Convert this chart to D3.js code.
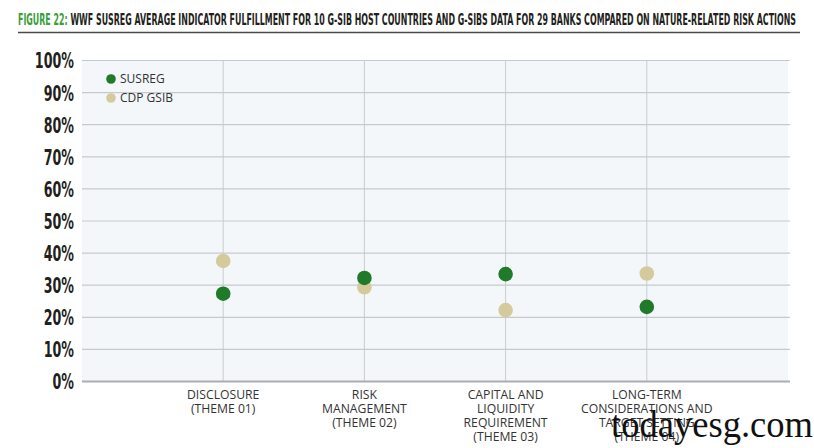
<!DOCTYPE html>
<html>
<head>
<meta charset="utf-8">
<script src="https://cdn.jsdelivr.net/npm/d3@7"></script>
<style>
  body { margin: 0; background: #fff; }
  svg { display: block; }
</style>
</head>
<body>
<svg id="chart" width="814" height="448"></svg>
<script>
// ---- data ----
const categories = [
  ["DISCLOSURE", "(THEME 01)"],
  ["RISK", "MANAGEMENT", "(THEME 02)"],
  ["CAPITAL AND", "LIQUIDITY", "REQUIREMENT", "(THEME 03)"],
  ["LONG-TERM", "CONSIDERATIONS AND", "TARGET SETTING", "(THEME 04)"]
];
const categoryKeys = ["Disclosure", "Risk Management", "Capital and Liquidity", "Long-term"];
const susregValues = [0.272, 0.321, 0.333, 0.231];
const cdpValues = [0.374, 0.292, 0.221, 0.335];
const yTicks = [0, 0.1, 0.2, 0.3, 0.4, 0.5, 0.6, 0.7, 0.8, 0.9, 1.0];
const seriesNames = ["SUSREG", "CDP GSIB"];
const seriesColors = ["#1f7a2a", "#d5ca9b"];

const svg = d3.select("#chart");
const plot = { left: 82, right: 788, top: 60, bottom: 381 };

const x = d3.scalePoint().domain(categoryKeys).range([plot.left, plot.right]).padding(1);
const y = d3.scaleLinear().domain([0, 1]).range([plot.bottom, plot.top]);

// title
const title = svg.append("text")
  .attr("x", 18).attr("y", 25)
  .attr("font-family", "'DejaVu Sans Condensed', 'Liberation Sans', sans-serif")
  .attr("font-weight", "bold")
  .attr("font-size", 16)
  .attr("textLength", 778)
  .attr("lengthAdjust", "spacingAndGlyphs");
title.append("tspan").attr("fill", "#3a9e3a").text("FIGURE 22: ");
title.append("tspan").attr("fill", "#231f20")
  .text("WWF SUSREG AVERAGE INDICATOR FULFILLMENT FOR 10 G-SIB HOST COUNTRIES AND G-SIBS DATA FOR 29 BANKS COMPARED ON NATURE-RELATED RISK ACTIONS");

svg.append("line")
  .attr("x1", 18).attr("x2", 800).attr("y1", 32.5).attr("y2", 32.5)
  .attr("stroke", "#4a4a4a").attr("stroke-width", 1.5);

// plot background
svg.append("rect")
  .attr("x", plot.left).attr("y", plot.top)
  .attr("width", plot.right - plot.left).attr("height", plot.bottom - plot.top)
  .attr("fill", "#f4f7fa");

// vertical grid lines
svg.append("g").selectAll("line").data(categoryKeys).join("line")
  .attr("x1", d => x(d)).attr("x2", d => x(d))
  .attr("y1", plot.top).attr("y2", plot.bottom)
  .attr("stroke", "#c9ccd0").attr("stroke-width", 1);

// y axis with gridlines
const yAxis = d3.axisLeft(y).tickValues(yTicks)
  .tickFormat(d3.format(".0%"))
  .tickSize(-(plot.right + 2 - plot.left)).tickPadding(8);
const yg = svg.append("g").attr("transform", `translate(${plot.left},0)`).call(yAxis);
yg.select(".domain").remove();
yg.selectAll(".tick line")
  .attr("stroke", d => d === 0 ? "#a9adb2" : "#c6c9cd")
  .attr("stroke-width", d => d === 0 ? 2 : 1.2);
const sx = 0.64;
yg.selectAll(".tick text")
  .attr("fill", "#231f20")
  .attr("font-family", "'DejaVu Sans Condensed', 'Liberation Sans', sans-serif")
  .attr("font-weight", "bold")
  .attr("font-size", 22)
  .attr("dy", "0.36em")
  .attr("x", -8)
  .each(function () {
    const w = this.getComputedTextLength();
    d3.select(this).attr("textLength", w * sx).attr("lengthAdjust", "spacingAndGlyphs");
  });

// x labels
const xl = svg.append("g");
categories.forEach((lines, i) => {
  const t = xl.append("text")
    .attr("x", x(categoryKeys[i])).attr("y", 399)
    .attr("text-anchor", "middle")
    .attr("font-family", "'Open Sans', sans-serif")
    .attr("font-size", 12.2)
    .attr("fill", "#333");
  lines.forEach((ln, j) => {
    t.append("tspan").attr("x", x(categoryKeys[i])).attr("dy", j === 0 ? 0 : 14).text(ln);
  });
});

// points: CDP first then SUSREG (SUSREG drawn on top)
const r = 7.3;
svg.append("g").selectAll("circle").data(cdpValues).join("circle")
  .attr("cx", (d, i) => x(categoryKeys[i])).attr("cy", d => y(d))
  .attr("r", r).attr("fill", seriesColors[1]);
svg.append("g").selectAll("circle").data(susregValues).join("circle")
  .attr("cx", (d, i) => x(categoryKeys[i])).attr("cy", d => y(d))
  .attr("r", r).attr("fill", seriesColors[0]);

// legend
const lg = svg.append("g");
seriesNames.forEach((n, i) => {
  lg.append("circle").attr("cx", 111).attr("cy", 79 + i * 19).attr("r", 4.8).attr("fill", seriesColors[i]);
  lg.append("text").attr("x", 120).attr("y", 79 + i * 19).attr("dy", "0.36em")
    .attr("font-family", "'Open Sans', sans-serif").attr("font-size", 12)
    .attr("fill", "#333").text(n);
});

// watermark
svg.append("text")
  .attr("x", 611).attr("y", 437)
  .attr("font-family", "'Liberation Serif', serif")
  .attr("font-size", 38)
  .attr("fill", "#111")
  .attr("textLength", 202).attr("lengthAdjust", "spacingAndGlyphs")
  .text("todayesg.com");
</script>
</body>
</html>
